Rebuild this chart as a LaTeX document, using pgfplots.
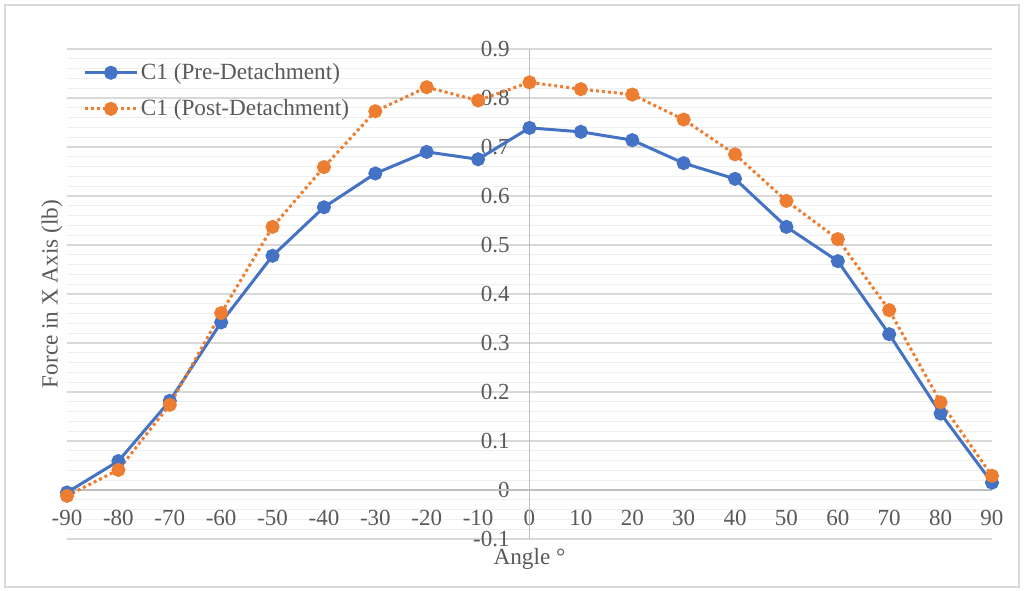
\documentclass[border=0pt]{standalone}
\usepackage{fontspec}
\setmainfont{Liberation Serif}
\usepackage{pgfplots}
\pgfplotsset{compat=1.18}

\definecolor{preblue}{HTML}{4472C4}
\definecolor{postorange}{HTML}{ED7D31}
\definecolor{txtgray}{HTML}{595959}
\definecolor{majgrid}{HTML}{D9D9D9}
\definecolor{mingrid}{HTML}{EFEFEF}
\definecolor{axgray}{HTML}{BFBFBF}

\begin{document}
\begin{tikzpicture}
\path[use as bounding box] (-33.5pt,-25.5pt) rectangle (478.5pt,269.5pt);
\draw[majgrid, line width=0.75pt] (-31pt,-24pt) rectangle (476pt,267pt);
\begin{axis}[
  at={(0pt,0pt)}, anchor=south west,
  scale only axis, width=462.5pt, height=245pt,
  xmin=-90, xmax=90, ymin=-0.1, ymax=0.9,
  clip=false,
  axis line style={draw=none},
  xtick={-90,-80,-70,-60,-50,-40,-30,-20,-10,0,10,20,30,40,50,60,70,80,90},
  xticklabels={-90,-80,-70,-60,-50,-40,-30,-20,-10,0,10,20,30,40,50,60,70,80,90},
  ytick={-0.1,0,0.1,0.2,0.3,0.4,0.5,0.6,0.7,0.8,0.9},
  yticklabels={-0.1,0,0.1,0.2,0.3,0.4,0.5,0.6,0.7,0.8,0.9},
  minor y tick num=4,
  ymajorgrids, yminorgrids,
  major grid style={majgrid, line width=0.6pt},
  minor grid style={mingrid, line width=0.6pt},
  major tick length=0pt, minor tick length=0pt,
  % zero lines of both axes, drawn as darker grid lines
  extra x ticks={0}, extra x tick labels={},
  extra x tick style={xmajorgrids=true, major grid style={axgray, line width=0.7pt}},
  extra y ticks={0}, extra y tick labels={},
  extra y tick style={ymajorgrids=true, yminorgrids=false, major grid style={axgray, line width=0.7pt}},
  tick label style={font=\fontsize{11.5}{13}\selectfont, text=txtgray, inner sep=0pt},
  xticklabel style={anchor=center, yshift=10.5pt},
  yticklabel style={anchor=east, xshift=221.5pt},
  xlabel={Angle °},
  ylabel={Force in X Axis (lb)},
  every axis x label/.style={at={(axis description cs:0.5,-0.041)}, anchor=center,
    font=\fontsize{11.6}{13}\selectfont, text=txtgray},
  every axis y label/.style={at={(axis description cs:-0.0162,0.5)}, anchor=center, rotate=90,
    font=\fontsize{11.6}{13}\selectfont, text=txtgray},
  legend style={at={(axis description cs:0.0173,0.98)}, anchor=north west,
    draw=none, fill=none, font=\fontsize{11.6}{13}\selectfont, text=txtgray,
    inner sep=0pt, row sep=4.5pt, nodes={inner xsep=1.25pt, inner ysep=2pt}},
  legend cell align=left,
  legend image code/.code={\draw[mark repeat=2,mark phase=2] plot coordinates {(0pt,0pt)(13pt,0pt)(26pt,0pt)};},
]
\addplot[preblue, line width=1.5pt, mark=*, mark size=2.75pt, mark options={solid, fill=preblue, draw=preblue}]
  coordinates {(-90,-0.005) (-80,0.059) (-70,0.182) (-60,0.342) (-50,0.478) (-40,0.577) (-30,0.646) (-20,0.690) (-10,0.675) (0,0.739) (10,0.731) (20,0.714) (30,0.667) (40,0.635) (50,0.537) (60,0.467) (70,0.318) (80,0.156) (90,0.015)};
\addlegendentry{C1 (Pre-Detachment)}
\addplot[postorange, line width=1.5pt, dash pattern=on 1.5pt off 1.5pt, mark=*, mark size=2.75pt, mark options={solid, fill=postorange, draw=postorange}]
  coordinates {(-90,-0.012) (-80,0.041) (-70,0.174) (-60,0.361) (-50,0.537) (-40,0.659) (-30,0.773) (-20,0.822) (-10,0.795) (0,0.832) (10,0.818) (20,0.807) (30,0.756) (40,0.685) (50,0.590) (60,0.512) (70,0.367) (80,0.179) (90,0.029)};
\addlegendentry{C1 (Post-Detachment)}
\end{axis}
\end{tikzpicture}
\end{document}
